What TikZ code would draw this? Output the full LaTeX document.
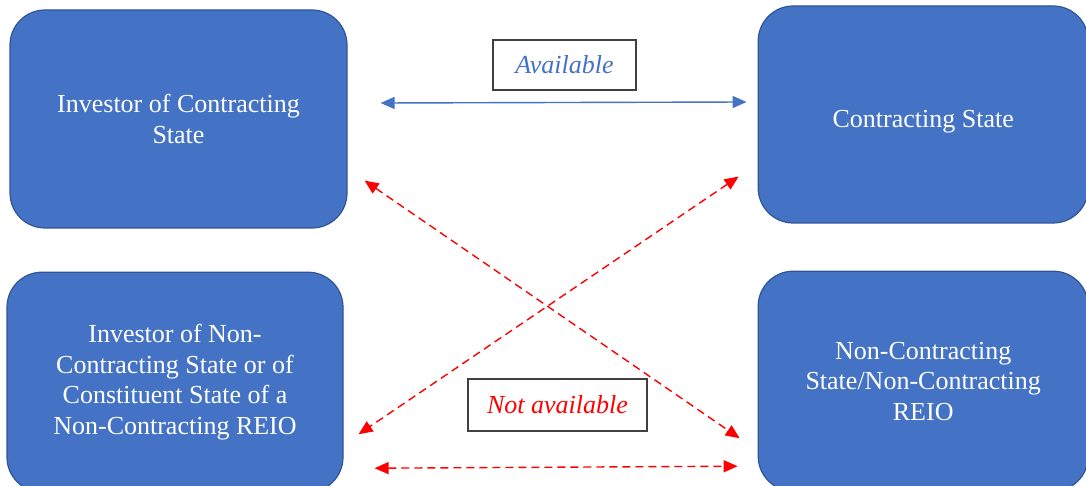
\documentclass[tikz,border=0pt]{standalone}
\usepackage{fontspec}
\setmainfont{Liberation Serif}
\usetikzlibrary{positioning}
\usetikzlibrary{arrows.meta}

\definecolor{boxblue}{HTML}{4472C4}
\definecolor{boxedge}{HTML}{2F5597}
\definecolor{tagedge}{HTML}{404040}

\tikzset{
	party/.style={draw=boxedge, line width=1.2pt, fill=boxblue, rounded corners=35pt,
		text=white, align=center, font=\fontsize{26}{30.5}\selectfont, inner sep=0pt},
	tag/.style={draw=tagedge, line width=1.3pt, fill=white, inner sep=0pt,
		font=\fontsize{26}{30}\itshape},
	yes/.style={boxblue, line width=1.4pt, {Triangle[length=14pt,width=12pt]}-{Triangle[length=14pt,width=12pt]}},
	no/.style={red, line width=1.4pt, dash pattern=on 8pt off 5pt,
		{Triangle[length=14pt,width=12pt]}-{Triangle[length=14pt,width=12pt]}}
}

\begin{document}
\begin{tikzpicture}[x=1pt,y=-1pt]
	\useasboundingbox (0,0) rectangle (1086,486);
	\clip (0,0) rectangle (1086,486);
	\node[party, minimum width=337pt, minimum height=218pt] (InvCS) at (178.5,119) {Investor of Contracting\\State};
	\node[party, minimum width=330pt, minimum height=217pt, right=410pt of InvCS, yshift=4.5pt] (CS) {\rule{0pt}{31pt}Contracting State};
	\node[party, minimum width=336pt, minimum height=220pt, below=43pt of InvCS, xshift=-3.5pt] (InvNCS) {Investor of Non-\\Contracting State or of\\Constituent State of a\\Non-Contracting REIO};
	\node[party, minimum width=330pt, minimum height=220pt, below=47pt of CS] (NCS) {Non-Contracting\\State/Non-Contracting\\REIO};
	\node[tag, minimum width=143pt, minimum height=50pt, text=boxblue] (Avail) at (564.5,65) {Available};
	\node[tag, minimum width=179pt, minimum height=52pt, text=red] (NotAvail) at (557.5,405) {Not available};
	\draw[yes] ([xshift=33pt,yshift=16pt]InvCS.east) -- ([xshift=-11pt,yshift=12.5pt]CS.west);
	\draw[no] ([xshift=17pt,yshift=48pt]InvCS.south east) -- ([xshift=-18pt,yshift=-57pt]NCS.west);
	\draw[no] ([xshift=-19pt,yshift=47pt]CS.south west) -- ([xshift=15pt,yshift=-52pt]InvNCS.east);
	\draw[no] ([xshift=31pt,yshift=-86pt]InvNCS.east) -- ([xshift=-20pt,yshift=-85pt]NCS.west);
\end{tikzpicture}
\end{document}
